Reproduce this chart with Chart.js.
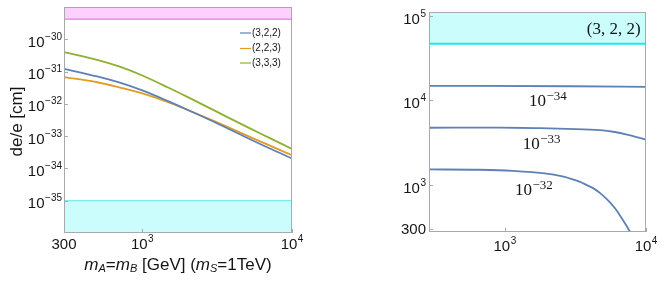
<!DOCTYPE html>
<html><head><meta charset="utf-8">
<script src="https://cdn.jsdelivr.net/npm/chart.js@4.4.0/dist/chart.umd.min.js"></script>
<style>
html,body{margin:0;padding:0;background:#fff;}
#wrap{position:relative;width:664px;height:284px;overflow:hidden;background:#fff;}
#c1{position:absolute;left:0;top:0;}
#c2{position:absolute;left:340px;top:0;}
</style></head><body>
<div id="wrap">
<canvas id="c1" width="330" height="284"></canvas>
<canvas id="c2" width="324" height="284"></canvas>
</div>
<script>
// ---------- Left panel data ----------
const massAB = [300, 500, 700, 1000, 1500, 2000, 3000, 5000, 7000, 10000];
const edm322 = [1.22e-31, 7.05e-32, 4.60e-32, 2.60e-32, 1.19e-32, 6.56e-33, 2.79e-33, 8.91e-34, 4.28e-34, 2.04e-34];
const edm223 = [6.76e-32, 4.67e-32, 3.24e-32, 2.11e-32, 1.11e-32, 6.56e-33, 2.96e-33, 1.04e-33, 5.26e-34, 2.58e-34];
const edm333 = [4.02e-31, 2.32e-31, 1.44e-31, 7.57e-32, 3.15e-32, 1.64e-32, 6.38e-33, 1.93e-33, 8.99e-34, 4.02e-34];
const seriesLabels = ['(3,2,2)', '(2,2,3)', '(3,3,3)'];
const upperBound = 4.2e-30;   // magenta region (above)
const lowerBound = 1e-35;     // cyan region (below)
const leftXTicks = [300, 1000, 10000];
const leftXTickLabels = ['300', '10^3', '10^4'];
const leftYTicks = [1e-35, 1e-34, 1e-33, 1e-32, 1e-31, 1e-30];
const leftYTickLabels = ['10^-35', '10^-34', '10^-33', '10^-32', '10^-31', '10^-30'];

// ---------- Right panel data ----------
const c34X = [290, 3000, 10000];
const c34Y = [14800, 14650, 14400];
const c33X = [290, 920, 1775, 2747, 4730, 6000, 7330, 10000];
const c33Y = [4750, 4770, 4690, 4600, 4440, 4230, 3950, 3450];
const c32X = [290, 664, 1140, 1977, 2460, 2897, 3410, 3810, 4245, 4730, 5140, 5575, 6050, 6560, 7125, 7730];
const c32Y = [1530, 1517, 1472, 1365, 1286, 1197, 1093, 1000, 915, 805, 713, 622, 529, 435, 350, 280];
const contourLabels = ['10^-34', '10^-33', '10^-32'];
const bandRight = 46400;
const rightXTicks = [1000, 10000];
const rightXTickLabels = ['10^3', '10^4'];
const rightYTicks = [300, 1000, 10000, 100000];
const rightYTickLabels = ['300', '10^3', '10^4', '10^5'];

const COL_BLUE = '#5E81B5', COL_ORANGE = '#E19C24', COL_GREEN = '#8FB032';
const SANS = '"Liberation Sans", Arial, sans-serif';
const SERIF = '"Liberation Serif", "DejaVu Serif", serif';
const FRAME = '#a9a9a9';
const TXT = '#151515';

function pts(xs, ys) { return xs.map((x, i) => ({x: x, y: ys[i]})); }

function drawPow(ctx, label, x, y, align, bs, es, raise, fam, color) {
  const p = label.split('^');
  const base = p[0];
  const exp = p.length > 1 ? p[1].replace('-', '\u2212') : '';
  ctx.font = bs + 'px ' + fam;
  const wb = ctx.measureText(base).width;
  ctx.font = es + 'px ' + fam;
  const we = exp ? ctx.measureText(exp).width + 0.5 : 0;
  const w = wb + we;
  const x0 = align === 'right' ? x - w : (align === 'center' ? x - w / 2 : x);
  ctx.fillStyle = color; ctx.textAlign = 'left'; ctx.textBaseline = 'alphabetic';
  ctx.font = bs + 'px ' + fam;
  ctx.fillText(base, x0, y);
  if (exp) { ctx.font = es + 'px ' + fam; ctx.fillText(exp, x0 + wb + 0.5, y - raise); }
}

function drawRich(ctx, parts, cx, cy, size, subSize, fam, color) {
  let w = 0;
  parts.forEach(p => {
    const sub = p[1].indexOf('s') >= 0, it = p[1].indexOf('i') >= 0;
    ctx.font = (it ? 'italic ' : '') + (sub ? subSize : size) + 'px ' + fam;
    w += ctx.measureText(p[0]).width;
  });
  let x = cx - w / 2;
  ctx.fillStyle = color; ctx.textAlign = 'left'; ctx.textBaseline = 'middle';
  parts.forEach(p => {
    const sub = p[1].indexOf('s') >= 0, it = p[1].indexOf('i') >= 0;
    ctx.font = (it ? 'italic ' : '') + (sub ? subSize : size) + 'px ' + fam;
    ctx.fillText(p[0], x, cy + (sub ? 4 : 0));
    x += ctx.measureText(p[0]).width;
  });
}

function frame(ctx, a) {
  ctx.save();
  ctx.strokeStyle = FRAME; ctx.lineWidth = 1;
  ctx.strokeRect(Math.round(a.left) + 0.5, Math.round(a.top) + 0.5,
                 Math.round(a.right - a.left) - 1, Math.round(a.bottom - a.top) - 1);
  ctx.restore();
}

function tickMarks(ctx, chart) {
  const a = chart.chartArea, sx = chart.scales.x, sy = chart.scales.y;
  ctx.save(); ctx.strokeStyle = FRAME; ctx.lineWidth = 1;
  sx.ticks.forEach(t => {
    const px = Math.round(sx.getPixelForValue(t.value)) + 0.5;
    ctx.beginPath(); ctx.moveTo(px, a.bottom); ctx.lineTo(px, a.bottom - 4); ctx.stroke();
  });
  sy.ticks.forEach(t => {
    const py = Math.round(sy.getPixelForValue(t.value)) + 0.5;
    ctx.beginPath(); ctx.moveTo(a.left, py); ctx.lineTo(a.left + 4, py); ctx.stroke();
  });
  ctx.restore();
}

// ---------- Left chart ----------
const leftPlugin = {
  id: 'leftDeco',
  afterDatasetsDraw(chart) {
    const ctx = chart.ctx, a = chart.chartArea, sx = chart.scales.x, sy = chart.scales.y;
    frame(ctx, a);
    tickMarks(ctx, chart);
    ctx.save();
    sy.ticks.forEach((t, i) => {
      drawPow(ctx, leftYTickLabels[i], a.left - 2, sy.getPixelForValue(t.value) + 7.5, 'right', 15, 10, 7, SANS, TXT);
    });
    sx.ticks.forEach((t, i) => {
      drawPow(ctx, leftXTickLabels[i], sx.getPixelForValue(t.value), 248.5, 'center', 15, 10, 7, SANS, TXT);
    });
    // legend
    const cols = [COL_BLUE, COL_ORANGE, COL_GREEN];
    const rows = [32.5, 48, 62.5];
    seriesLabels.forEach((lab, i) => {
      ctx.strokeStyle = cols[i]; ctx.lineWidth = 1.2;
      ctx.beginPath(); ctx.moveTo(240, rows[i] + 0.5); ctx.lineTo(251, rows[i] + 0.5); ctx.stroke();
      ctx.fillStyle = TXT; ctx.font = '10px ' + SANS; ctx.textAlign = 'left'; ctx.textBaseline = 'middle';
      ctx.fillText(lab, 252, rows[i] + 0.5);
    });
    // axis titles
    drawRich(ctx, [['m', 'i'], ['A', 'is'], ['=', ''], ['m', 'i'], ['B', 'is'], [' [GeV] (', ''], ['m', 'i'], ['S', 'is'], ['=1TeV)', '']],
      178, 265, 17, 11, SANS, TXT);
    ctx.translate(17, 121.5); ctx.rotate(-Math.PI / 2);
    drawRich(ctx, [['de/e [cm]', '']], 0, 0, 17, 11, SANS, TXT);
    ctx.restore();
  }
};

new Chart(document.getElementById('c1'), {
  type: 'line',
  data: {
    labels: massAB,
    datasets: [
      {label: 'upper', data: pts([300, 10000], [upperBound, upperBound]), borderColor: '#e65ee6', borderWidth: 1,
       backgroundColor: '#fdd0fd', fill: 'end', pointRadius: 0, order: 5},
      {label: 'lower', data: pts([300, 10000], [lowerBound, lowerBound]), borderColor: '#5ee6ec', borderWidth: 1,
       backgroundColor: '#ccfdfd', fill: 'start', pointRadius: 0, order: 5},
      {label: seriesLabels[0], data: pts(massAB, edm322), borderColor: COL_BLUE, borderWidth: 1.8, pointRadius: 0,
       cubicInterpolationMode: 'monotone', fill: false, order: 1},
      {label: seriesLabels[1], data: pts(massAB, edm223), borderColor: COL_ORANGE, borderWidth: 1.8, pointRadius: 0,
       cubicInterpolationMode: 'monotone', fill: false, order: 2},
      {label: seriesLabels[2], data: pts(massAB, edm333), borderColor: COL_GREEN, borderWidth: 1.8, pointRadius: 0,
       cubicInterpolationMode: 'monotone', fill: false, order: 3}
    ]
  },
  options: {
    responsive: false, animation: false, devicePixelRatio: 1,
    layout: {padding: {left: 0, right: 38, top: 7, bottom: 0}},
    plugins: {legend: {display: false}, tooltip: {enabled: false}},
    scales: {
      x: {type: 'logarithmic', min: 300, max: 10000, grid: {display: false}, border: {display: false},
          ticks: {display: false}, afterBuildTicks(s) { s.ticks = leftXTicks.map(v => ({value: v})); },
          afterFit(s) { s.height = 51; }},
      y: {type: 'logarithmic', min: 1e-36, max: 1e-29, grid: {display: false}, border: {display: false},
          ticks: {display: false}, afterBuildTicks(s) { s.ticks = leftYTicks.map(v => ({value: v})); },
          afterFit(s) { s.width = 64; }}
    }
  },
  plugins: [leftPlugin]
});

// ---------- Right chart ----------
const rightPlugin = {
  id: 'rightDeco',
  afterDatasetsDraw(chart) {
    const ctx = chart.ctx, a = chart.chartArea, sx = chart.scales.x, sy = chart.scales.y;
    frame(ctx, a);
    tickMarks(ctx, chart);
    ctx.save();
    sy.ticks.forEach((t, i) => {
      const lab = rightYTickLabels[i];
      drawPow(ctx, lab, a.left - 3, sy.getPixelForValue(t.value) + (lab.indexOf('^') >= 0 ? 8 : 5), 'right', 15, 10, 7, SANS, TXT);
    });
    sx.ticks.forEach((t, i) => {
      drawPow(ctx, rightXTickLabels[i], sx.getPixelForValue(t.value), 250.5, 'center', 15, 10, 7, SANS, TXT);
    });
    // contour labels (anchored in data coordinates)
    const anchors = [[1483, 8490], [1337, 2654], [1178, 762]];
    contourLabels.forEach((lab, i) => {
      drawPow(ctx, lab, sx.getPixelForValue(anchors[i][0]), sy.getPixelForValue(anchors[i][1]), 'left', 17, 13, 6.5, SERIF, TXT);
    });
    ctx.fillStyle = TXT; ctx.font = '17px ' + SERIF; ctx.textAlign = 'left'; ctx.textBaseline = 'alphabetic';
    ctx.fillText('(3, 2, 2)', sx.getPixelForValue(3810), sy.getPixelForValue(60900));
    drawRich(ctx, [['m', 'i'], ['S', 'is'], [' [GeV]', '']], 540, 266, 17, 11, SANS, TXT);
    ctx.translate(392, 122); ctx.rotate(-Math.PI / 2);
    drawRich(ctx, [['m', 'i'], ['A', 'is'], ['=', ''], ['m', 'i'], ['B', 'is'], [' [GeV]', '']], 0, 0, 17, 11, SANS, TXT);
    ctx.restore();
  }
};

new Chart(document.getElementById('c2'), {
  type: 'scatter',
  data: {
    datasets: [
      {label: 'band', data: pts([290, 10000], [bandRight, bandRight]), borderColor: '#1ee8ee', borderWidth: 2,
       backgroundColor: '#ccfdfd', fill: 'end', showLine: true, pointRadius: 0},
      {label: contourLabels[0], data: pts(c34X, c34Y), borderColor: COL_BLUE, borderWidth: 1.8, showLine: true,
       pointRadius: 0, cubicInterpolationMode: 'monotone'},
      {label: contourLabels[1], data: pts(c33X, c33Y), borderColor: COL_BLUE, borderWidth: 1.8, showLine: true,
       pointRadius: 0, cubicInterpolationMode: 'monotone'},
      {label: contourLabels[2], data: pts(c32X, c32Y), borderColor: COL_BLUE, borderWidth: 1.8, showLine: true,
       pointRadius: 0, cubicInterpolationMode: 'monotone'}
    ]
  },
  options: {
    responsive: false, animation: false, devicePixelRatio: 1,
    layout: {padding: {left: 0, right: 18, top: 12, bottom: 0}},
    plugins: {legend: {display: false}, tooltip: {enabled: false}},
    scales: {
      x: {type: 'logarithmic', min: 290, max: 10000, grid: {display: false}, border: {display: false},
          ticks: {display: false}, afterBuildTicks(s) { s.ticks = rightXTicks.map(v => ({value: v})); },
          afterFit(s) { s.height = 52; }},
      y: {type: 'logarithmic', min: 280, max: 110000, grid: {display: false}, border: {display: false},
          ticks: {display: false}, afterBuildTicks(s) { s.ticks = rightYTicks.map(v => ({value: v})); },
          afterFit(s) { s.width = 89; }}
    }
  },
  plugins: [rightPlugin]
});
</script>
</body></html>
